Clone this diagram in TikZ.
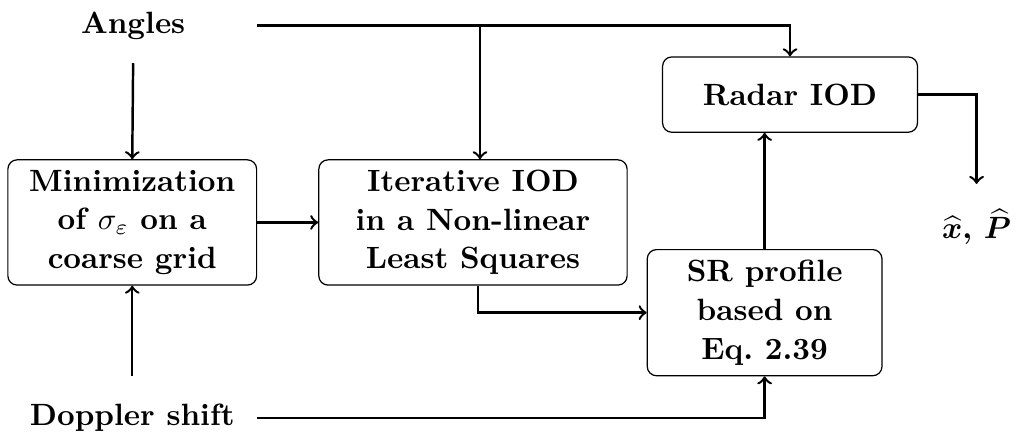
\documentclass[tikz,border=0pt]{standalone}
\usepackage{amsmath,bm}
\begin{document}
\begin{tikzpicture}[font=\bfseries,
  block/.style={draw,rounded corners=3pt,align=center,inner sep=2pt},
  conn/.style={thick,->}]
	  \useasboundingbox (0,0) rectangle (11.6,-5.0);
	  \node (Ang) at (1.52,-0.29) {Angles};
	  \node (Dop) at (1.51,-4.77) {Doppler shift};
	  \node (Min) [block,minimum width=2.84cm,minimum height=1.43cm] at (1.51,-2.54) {Minimization\\[0.6pt]of $\sigma_{\varepsilon}$ on a\\[0.6pt]coarse grid};
	  \node (It) [block,minimum width=3.52cm,minimum height=1.43cm] at (5.40,-2.54) {Iterative IOD\\[0.6pt]in a Non-linear\\[0.6pt]Least Squares};
	  \node (Rad) [block,minimum width=2.91cm,minimum height=0.86cm] at (9.02,-1.08) {Radar IOD};
	  \node (SR) [block,minimum width=2.68cm,minimum height=1.44cm] at (8.73,-3.57) {SR profile\\[0.6pt]based on\\[0.6pt]Eq.~2.39};
	  \node (Out) at (11.15,-2.59) {$\widehat{\bm{x}}$, $\widehat{\bm{P}}$};
	  \coordinate (AngE) at (Min.east |- Ang);
	  \coordinate (DopE) at (Min.east |- Dop);
	  \coordinate (ItIn) at ([xshift=0.08cm]It.north);
	  \coordinate (ItOut) at ([xshift=0.06cm]It.south);
	  \coordinate (OutIn) at ([yshift=-1.02cm]Rad.east -| Out);
	  \draw[conn] ([yshift=-0.15cm]Ang.south) -- (Min.north);
	  \draw[conn] ([yshift=0.2cm]Dop.north) -- (Min.south);
	  \draw[conn] (AngE) -| (Rad.north);
	  \draw[conn] (AngE -| ItIn) -- (ItIn);
	  \draw[conn] (DopE) -| (SR.south);
	  \draw[conn] (Min.east) -- (It.west);
	  \draw[conn] (ItOut) |- (SR.west);
	  \draw[conn] (SR.north) -- (SR.north |- Rad.south);
	  \draw[thick,->] (Rad.east) -| (OutIn);
	\end{tikzpicture}
\end{document}
